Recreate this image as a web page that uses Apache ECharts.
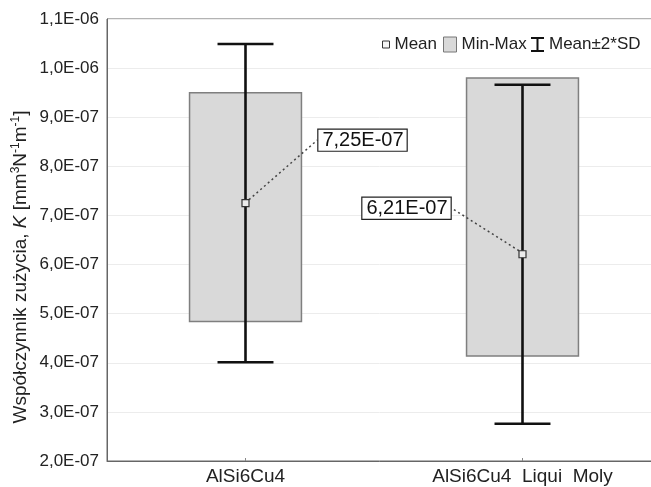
<!DOCTYPE html>
<html>
<head>
<meta charset="utf-8">
<script src="https://cdn.jsdelivr.net/npm/echarts@6/dist/echarts.min.js"></script>
<style>html,body{margin:0;padding:0;background:#fff}#c{width:651px;height:487px}</style>
</head>
<body>
<div id="c"></div>
<script>
// ---- data ----
const categories = ['AlSi6Cu4', 'AlSi6Cu4  Liqui  Moly'];
const means = [7.25e-7, 6.21e-7];
const mins = [4.84e-7, 4.14e-7];
const maxs = [9.50e-7, 9.80e-7];
const twoSD = [3.24e-7, 3.45e-7];
const yTicks = { min: 2e-7, max: 1.1e-6, step: 1e-7 };

// ---- helpers ----
const U = 1e7; // plot in units of 1e-7
function fmtE(v, d) {
  const parts = v.toExponential(d).split('e');
  const m = parts[0].replace('.', ',');
  let e = parseInt(parts[1], 10);
  const sign = e < 0 ? '-' : '+';
  e = Math.abs(e);
  return m + 'E' + sign + (e < 10 ? '0' + e : '' + e);
}
const FONT = '"Liberation Sans", Arial, sans-serif';

const boxData = categories.map((c, i) => [i, mins[i] * U, maxs[i] * U]);
const sdData = categories.map((c, i) => [i, (means[i] - twoSD[i]) * U, (means[i] + twoSD[i]) * U]);
const meanData = categories.map((c, i) => [i, means[i] * U]);
const labelShift = [[117, -63], [-116, -46]];

const chart = echarts.init(document.getElementById('c'), null, { renderer: 'canvas' });
chart.setOption({
  animation: false,
  backgroundColor: '#fff',
  textStyle: { fontFamily: FONT },
  grid: { left: 107, width: 554, top: 19, bottom: 26, show: true, borderColor: '#666', borderWidth: 1,
          containLabel: false, outerBoundsMode: 'none' },
  legend: [
    { left: 382, top: 36, padding: 0, itemWidth: 7, itemHeight: 7, itemGap: 0, selectedMode: false,
      textStyle: { fontSize: 17, color: '#222', fontFamily: FONT },
      data: [{ name: 'Mean', icon: 'rect', itemStyle: { color: '#f4f4f4', borderColor: '#333', borderWidth: 1 } }] },
    { left: 443, top: 36, padding: 0, itemWidth: 13, itemHeight: 15, itemGap: 0, selectedMode: false,
      textStyle: { fontSize: 17, color: '#222', fontFamily: FONT },
      data: [{ name: 'Min-Max', icon: 'rect', itemStyle: { color: '#d9d9d9', borderColor: '#777', borderWidth: 1 } }] },
    { left: 531, top: 36, padding: 0, itemWidth: 13, itemHeight: 15, itemGap: 0, selectedMode: false,
      textStyle: { fontSize: 17, color: '#222', fontFamily: FONT },
      data: [{ name: 'Mean±2*SD', icon: 'path://M0,0 H13 V2 H7.5 V13 H13 V15 H0 V13 H5.5 V2 H0 Z', itemStyle: { color: '#111', borderWidth: 0 } }] }
  ],
  xAxis: {
    type: 'category',
    data: categories,
    boundaryGap: true,
    axisLine: { lineStyle: { color: '#666', width: 1 } },
    axisTick: { show: true, inside: true, length: 3, alignWithLabel: true, lineStyle: { color: '#888' } },
    axisLabel: { fontSize: 19, color: '#222', margin: 6, fontFamily: FONT },
    splitLine: { show: false }
  },
  yAxis: {
    type: 'value',
    min: yTicks.min * U,
    max: yTicks.max * U,
    interval: yTicks.step * U,
    axisLine: { show: true, lineStyle: { color: '#666', width: 1 } },
    axisTick: { show: false },
    axisLabel: { fontSize: 17, color: '#222', margin: 8, fontFamily: FONT,
      formatter: v => fmtE(v / U, 1) },
    splitLine: { show: true, lineStyle: { color: '#ececec', width: 1 } }
  },
  graphic: [{
    type: 'text',
    x: 21, y: 267,
    rotation: Math.PI / 2,
    style: {
      text: 'Współczynnik zużycia, {i|K} [mm{sup|3}N{sup|-1}m{sup|-1}]',
      fontSize: 19, fontFamily: FONT, fill: '#222',
      align: 'center', verticalAlign: 'middle',
      rich: {
        i: { fontSize: 19, fontStyle: 'italic', fontFamily: FONT, fill: '#222' },
        sup: { fontSize: 12, fontFamily: FONT, fill: '#222', verticalAlign: 'top', lineHeight: 22 }
      }
    }
  }],
  series: [
    {
      name: 'Min-Max',
      type: 'custom',
      data: boxData,
      encode: { x: 0, y: [1, 2] },
      z: 2,
      renderItem: function (params, api) {
        const x = api.value(0);
        const lo = api.coord([x, api.value(1)]);
        const hi = api.coord([x, api.value(2)]);
        const w = api.size([1, 0])[0] * 0.404;
        return {
          type: 'rect',
          shape: { x: lo[0] - w / 2, y: hi[1], width: w, height: lo[1] - hi[1] },
          style: { fill: '#d9d9d9', stroke: '#7f7f7f', lineWidth: 1.5 }
        };
      }
    },
    {
      name: 'Mean±2*SD',
      type: 'custom',
      data: sdData,
      encode: { x: 0, y: [1, 2] },
      z: 3,
      itemStyle: { color: '#111' },
      renderItem: function (params, api) {
        const x = api.value(0);
        const lo = api.coord([x, api.value(1)]);
        const hi = api.coord([x, api.value(2)]);
        const cw = api.size([1, 0])[0] * 0.202;
        const st = { stroke: '#111', lineWidth: 2.6 };
        return {
          type: 'group',
          children: [
            { type: 'line', shape: { x1: lo[0], y1: lo[1], x2: hi[0], y2: hi[1] }, style: st },
            { type: 'line', shape: { x1: lo[0] - cw / 2, y1: lo[1], x2: lo[0] + cw / 2, y2: lo[1] }, style: st },
            { type: 'line', shape: { x1: hi[0] - cw / 2, y1: hi[1], x2: hi[0] + cw / 2, y2: hi[1] }, style: st }
          ]
        };
      }
    },
    {
      name: 'Mean',
      type: 'scatter',
      data: meanData,
      symbol: 'rect',
      symbolSize: 7,
      z: 5,
      itemStyle: { color: '#ececec', borderColor: '#333', borderWidth: 1.2, opacity: 1 },
      label: {
        show: true,
        position: 'inside',
        formatter: p => fmtE(p.value[1] / U, 2),
        fontSize: 20, color: '#111', fontFamily: FONT,
        backgroundColor: '#fff', borderColor: '#222', borderWidth: 1.2,
        padding: [1, 3, 0, 4]
      },
      labelLayout: function (params) {
        const s = labelShift[params.dataIndex];
        return { dx: s[0], dy: s[1] };
      },
      labelLine: { show: true, lineStyle: { color: '#444', width: 1.5, type: [2, 3] } },
      emphasis: { disabled: true }
    }
  ]
});
</script>
</body>
</html>
